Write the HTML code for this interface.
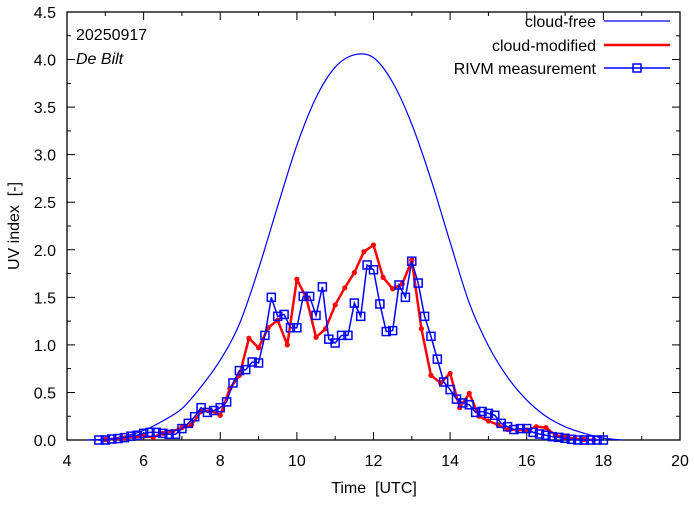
<!DOCTYPE html>
<html><head><meta charset="utf-8"><style>
body{margin:0;background:#fff}
svg text{font-family:"Liberation Sans",sans-serif;fill:#000;white-space:pre}
</style></head><body>
<svg id="chart" width="694" height="501" viewBox="0 0 694 501" xmlns="http://www.w3.org/2000/svg">
<g id="axes"></g>
<g id="series"></g>
<text x="76" y="40" font-size="16">20250917</text>
<text x="76" y="64" font-size="16" font-style="italic">De Bilt</text>
<text x="374" y="493" font-size="16" text-anchor="middle" xml:space="preserve">Time  [UTC]</text>
<text transform="translate(19,226) rotate(-90)" font-size="16" text-anchor="middle" xml:space="preserve">UV index  [-]</text>
<g id="legend">
<g><text x="596" y="27" font-size="16" text-anchor="end">cloud-free</text><line x1="604" y1="21" x2="670" y2="21" stroke="#0000ff" stroke-width="1.2"/></g>
<g><text x="596" y="51" font-size="16" text-anchor="end">cloud-modified</text><line x1="604" y1="45" x2="670" y2="45" stroke="#ff0000" stroke-width="2.5"/></g>
<g><text x="596" y="74" font-size="16" text-anchor="end">RIVM measurement</text><line x1="604" y1="68" x2="670" y2="68" stroke="#0000ff" stroke-width="1.5"/><rect x="633" y="64" width="8" height="8" fill="none" stroke="#0000ff" stroke-width="1.5"/></g>
</g>
</svg>
<script>
const xTicks=[4,6,8,10,12,14,16,18,20];
const yTicks=[0,0.5,1,1.5,2,2.5,3,3.5,4,4.5];
const yTickLabels=["0.0","0.5","1.0","1.5","2.0","2.5","3.0","3.5","4.0","4.5"];
const clearTimes=[4.5,5,5.5,6,6.5,7,7.5,8,8.5,9,9.5,10,10.5,11,11.5,12,12.5,13,13.5,14,14.5,15,15.5,16,16.5,17,17.5,18,18.5];
const clearValues=[0,0.01,0.04,0.1,0.2,0.33,0.56,0.84,1.22,1.8,2.46,3.1,3.6,3.92,4.05,4.02,3.76,3.32,2.74,2.08,1.44,0.99,0.66,0.42,0.25,0.14,0.07,0.02,0];
const redStart=5.0, redStep=0.25;
const redValues=[0.005,0.01,0.02,0.03,0.04,0.03,0.07,0.09,0.13,0.16,0.30,0.31,0.26,0.54,0.68,1.07,0.97,1.18,1.26,1.00,1.69,1.49,1.08,1.17,1.42,1.60,1.76,1.98,2.05,1.71,1.59,1.64,1.89,1.17,0.68,0.60,0.70,0.34,0.49,0.25,0.20,0.16,0.11,0.105,0.105,0.14,0.13,0.05,0.03,0.015,0.005,0];
const measStart=4.833, measStep=1/6;
const measValues=[0,0,0.01,0.015,0.025,0.04,0.05,0.07,0.08,0.08,
0.07,0.06,0.06,0.12,0.175,0.245,0.34,0.29,0.31,0.34,0.40,0.60,0.73,0.74,0.82,0.81,1.10,1.50,1.30,1.32,1.18,1.18,1.51,1.51,1.31,1.61,1.06,1.02,1.10,1.10,1.44,1.30,1.84,1.79,1.43,1.14,1.15,1.63,1.50,1.88,1.65,1.30,1.09,0.85,0.61,0.53,0.43,
0.39,0.37,0.29,0.30,0.28,0.26,0.175,0.14,0.11,0.12,0.12,0.08,0.063,0.05,0.035,0.028,0.018,0.007,0,0,0,0,0];

const L=67,R=680,T=12,B=440;
const sx=t=>L+(t-4)/(20-4)*(R-L);
const sy=v=>B-v/4.5*(B-T);
const NS="http://www.w3.org/2000/svg";
function mk(tag,attrs,parent){const e=document.createElementNS(NS,tag);for(const k in attrs)e.setAttribute(k,attrs[k]);parent.appendChild(e);return e;}
const ax=document.getElementById('axes');
const frame=mk('rect',{x:L,y:T,width:R-L,height:B-T,fill:'none',stroke:'#000','stroke-width':1.3},ax);


for(let t=4;t<=20;t++){
  const major=t%2===0,len=major?8:4,x=sx(t);
  const tk=mk('path',{d:`M${x},${B}v${-len}M${x},${T}v${len}`,stroke:'#000','stroke-width':1},ax);
  
  
}
xTicks.forEach(t=>{
  const tx=mk('text',{x:sx(t),y:B+26,'font-size':16,'text-anchor':'middle'},ax);tx.textContent=t;
  
  
});
for(let i=0;i<=18;i++){
  const v=i*0.25,major=i%2===0,len=major?8:4,y=sy(v);
  const tk=mk('path',{d:`M${L},${y}h${len}M${R},${y}h${-len}`,stroke:'#000','stroke-width':1},ax);
  
  
}
yTicks.forEach((v,i)=>{
  const tx=mk('text',{x:L-11,y:sy(v)+6,'font-size':16,'text-anchor':'end'},ax);tx.textContent=yTickLabels[i];
  
  
});
const sg=document.getElementById('series');
const cp=clearTimes.map((t,i)=>[sx(t),sy(clearValues[i])]);
let d=`M${cp[0][0]},${cp[0][1]}`;
for(let i=0;i<cp.length-1;i++){
  const p0=cp[Math.max(0,i-1)],p1=cp[i],p2=cp[i+1],p3=cp[Math.min(cp.length-1,i+2)];
  d+=`C${p1[0]+(p2[0]-p0[0])/6},${p1[1]+(p2[1]-p0[1])/6} ${p2[0]-(p3[0]-p1[0])/6},${p2[1]-(p3[1]-p1[1])/6} ${p2[0]},${p2[1]}`;
}
const cf=mk('path',{d:d,fill:'none',stroke:'#0000ff','stroke-width':1.2},sg);


const rp=redValues.map((v,i)=>[sx(redStart+i*redStep),sy(v)]);
const rl=mk('polyline',{points:rp.map(p=>p.join(',')).join(' '),fill:'none',stroke:'#ff0000','stroke-width':2.5,'stroke-linejoin':'round'},sg);


rp.forEach(p=>{
  const c=mk('circle',{cx:p[0],cy:p[1],r:2.6,fill:'#ff0000'},sg);
  
  
});
const mp=measValues.map((v,i)=>[sx(measStart+i*measStep),sy(v)]);
const ml=mk('polyline',{points:mp.map(p=>p.join(',')).join(' '),fill:'none',stroke:'#0000ff','stroke-width':1.5},sg);


mp.forEach(p=>{
  const r=mk('rect',{x:p[0]-4,y:p[1]-4,width:8,height:8,fill:'none',stroke:'#0000ff','stroke-width':1.5},sg);
  
  
});
</script>
</body></html>
